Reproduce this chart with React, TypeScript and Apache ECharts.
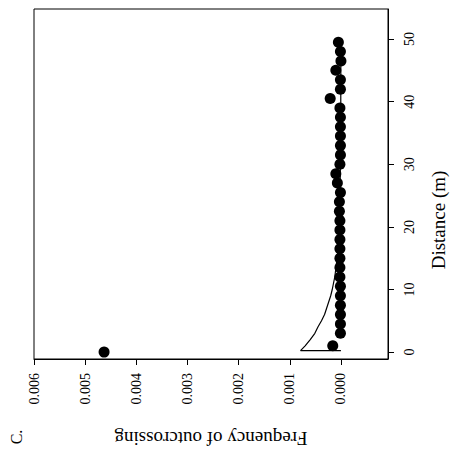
import React, { useEffect, useRef } from "react";
import * as echarts from "echarts";

// Observed points: distance (m) and frequency of outcrossing
const pointDistances: number[] = [
  0, 1, 3, 4.5, 6, 7.5, 9, 10.5, 12, 13.5, 15, 16.5, 18, 19.5, 21, 22.5, 24,
  25.5, 27, 28.5, 30, 31.5, 33, 34.5, 36, 37.5, 39, 40.5, 42, 43.5, 45, 46.5,
  48, 49.5,
];
const pointFrequencies: number[] = [
  0.00463, 0.00016, 0.00001, 0.00001, 0.00001, 0.00001, 0.00001, 0.00001,
  0.00002, 0.00002, 0.00002, 0.00002, 0.00002, 0.00002, 0.00002, 0.00003,
  0.00003, 0.00001, 0.00007, 0.0001, 0.00002, 0.00001, 0.00001, 0.00001,
  0.00001, 0.00001, 0.00002, 0.00021, 0.00001, 0.00001, 0.0001, 0.0, 0.00001,
  0.00005,
];

// Fitted curve
const curveDistances: number[] = [
  0.25, 0.25, 1, 2, 3, 4, 5, 6, 7, 8, 9, 10, 12, 14, 16, 18, 20, 25, 30, 40,
  49.5,
];
const curveFrequencies: number[] = [
  0.0, 0.00079, 0.0007, 0.0006, 0.00051, 0.00045, 0.00038, 0.00032, 0.00028,
  0.00024, 0.0002, 0.00017, 0.00012, 0.00009, 0.00006, 0.00005, 0.00004,
  0.00002, 0.00001, 0.000003, 0.000001,
];

const freqTicks: number[] = [0, 0.001, 0.002, 0.003, 0.004, 0.005, 0.006];
const distTicks: number[] = [0, 10, 20, 30, 40, 50];

const SERIF = '"Liberation Serif", "DejaVu Serif", serif';

export default function App() {
  const ref = useRef<HTMLDivElement>(null);
  useEffect(() => {
    if (!ref.current) return;
    const chart = echarts.init(ref.current, undefined, { renderer: "svg" });
    const points = pointDistances.map((d, i) => [pointFrequencies[i], d]);
    const curve = curveDistances.map((d, i) => [curveFrequencies[i], d]);
    chart.setOption({
      animation: false,
      backgroundColor: "#fff",
      grid: {
        left: 34,
        right: 71,
        top: 9,
        bottom: 92,
        show: true,
        borderColor: "#000",
        borderWidth: 1,
        backgroundColor: "transparent",
      },
      xAxis: {
        type: "value",
        inverse: true,
        min: -0.00092,
        max: 0.006,
        position: "bottom",
        axisLine: { show: true, onZero: false, lineStyle: { color: "#000", width: 1 } },
        axisTick: {
          show: true,
          length: 6,
          customValues: freqTicks,
          lineStyle: { color: "#000" },
        },
        axisLabel: {
          customValues: freqTicks,
          rotate: 90,
          margin: 14,
          color: "#000",
          fontFamily: SERIF,
          fontSize: 14,
          formatter: (v: number) => v.toFixed(3),
        },
        splitLine: { show: false },
      },
      yAxis: {
        type: "value",
        position: "right",
        min: -1.1,
        max: 54.8,
        axisLine: { show: true, onZero: false, lineStyle: { color: "#000", width: 1 } },
        axisTick: {
          show: true,
          length: 6,
          customValues: distTicks,
          lineStyle: { color: "#000" },
        },
        axisLabel: {
          customValues: distTicks,
          rotate: 90,
          margin: 14,
          color: "#000",
          fontFamily: SERIF,
          fontSize: 14,
          formatter: (v: number) => String(v),
        },
        splitLine: { show: false },
      },
      series: [
        {
          type: "line",
          data: curve,
          symbol: "none",
          lineStyle: { color: "#000", width: 1.2 },
          z: 2,
        },
        {
          type: "scatter",
          data: points,
          symbol: "circle",
          symbolSize: 11,
          itemStyle: { color: "#000", opacity: 1 },
          z: 3,
        },
      ],
      graphic: [
        {
          type: "text",
          x: 211,
          y: 438,
          rotation: Math.PI,
          style: {
            text: "Frequency of outcrossing",
            font: `19px ${SERIF}`,
            textAlign: "center",
            textVerticalAlign: "middle",
            fill: "#000",
          },
        },
        {
          type: "text",
          x: 438,
          y: 220,
          rotation: Math.PI / 2,
          style: {
            text: "Distance (m)",
            font: `19px ${SERIF}`,
            textAlign: "center",
            textVerticalAlign: "middle",
            fill: "#000",
          },
        },
        {
          type: "text",
          x: 16,
          y: 437,
          rotation: Math.PI / 2,
          style: {
            text: "C.",
            font: `16px ${SERIF}`,
            textAlign: "center",
            textVerticalAlign: "middle",
            fill: "#000",
          },
        },
      ],
    });
    return () => chart.dispose();
  }, []);
  return (
    <div
      ref={ref}
      style={{ position: "absolute", left: 0, top: 0, width: 459, height: 451 }}
    />
  );
}
